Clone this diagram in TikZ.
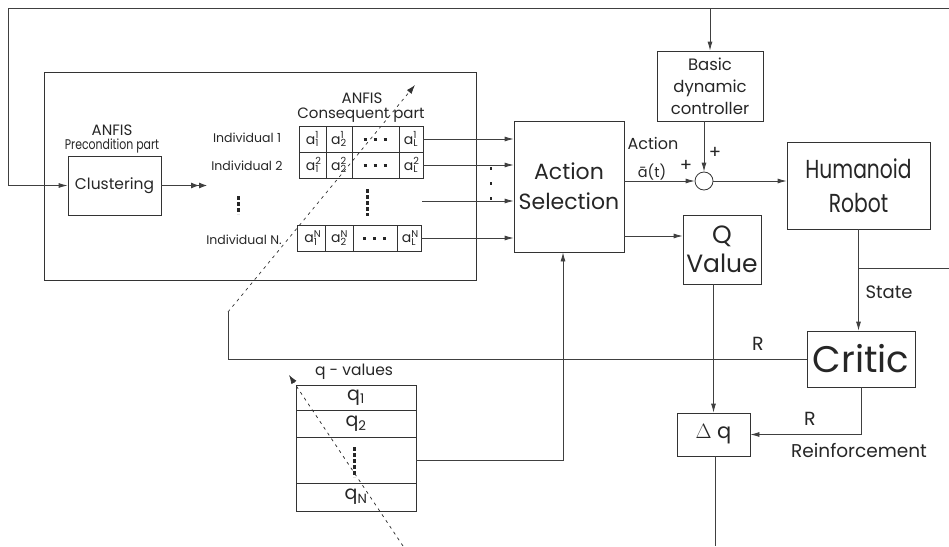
\documentclass[tikz,border=0pt]{standalone}
\usepackage{fontspec}
\setmainfont{Poppins}
\newfontfamily\narrowfont[FakeStretch=0.78]{Poppins}
\usetikzlibrary{arrows.meta}

\newcommand{\ak}[2]{a\rlap{\textsuperscript{#1}}\textsubscript{#2}}
\newcommand{\fs}[2]{\fontsize{#1}{#2}\selectfont}

\tikzset{
  blk/.style={draw=black!80, line width=0.8pt, inner sep=0pt, align=center, text=black!85},
  cell/.style={blk, minimum height=26pt, font=\fs{14}{16}},
  qrow/.style={blk, minimum width=120pt, font=\fs{19}{22}},
  lbl/.style={inner sep=0pt, text=black!85, align=center},
  ln/.style={line width=0.8pt, draw=black!75},
  arr/.style={ln, -{Latex[length=9pt,width=5pt]}},
  dsh/.style={line width=0.7pt, draw=black!80, dash pattern=on 3pt off 4pt,
    -{Latex[length=9pt,width=6pt]}},
  bigdots/.style={line width=3pt, draw=black!85, dash pattern=on 3.5pt off 2.5pt},
}

\begin{document}
\begin{tikzpicture}[x=1pt,y=-1pt]
  \useasboundingbox (0,0) rectangle (949,546);

  % ANFIS block
  \node[blk, minimum width=432pt, minimum height=208pt] (anfis) at (260,176) {};
  \node[blk, minimum width=93pt, minimum height=59pt, font=\fs{15.5}{18}] (clust) at (114.5,185.5) {Clustering};
  \node[lbl, font=\fs{15}{18}] (anfisA) at (112,130) {ANFIS};
  \node[lbl, font=\narrowfont\fs{14}{16}] (precond) at (112,146) {Precondition part};
  \node[lbl, font=\fs{15}{18}] (anfisB) at (362,98) {ANFIS};
  \node[lbl, font=\fs{15}{18}] (conseq) at (361,115) {Consequent part};

  \node[lbl, font=\fs{12.5}{15}] (ind1) at (247,138) {Individual 1};
  \node[lbl, font=\fs{12.5}{15}] (ind2) at (247,166) {Individual 2};
  \node[lbl, font=\fs{12.5}{15}] (indN) at (244,240) {Individual N.};
  \draw[bigdots] (238,196) -- (238,214);

  % consequent parameters of each individual
  \node[cell, minimum width=27pt] (a11) at (312.5,139) {\ak{1}{1}};
  \node[cell, minimum width=26pt] (a12) at (339,139) {\ak{1}{2}};
  \node[cell, minimum width=47pt] (d1) at (375.5,139) {};
  \node[cell, minimum width=24pt] (a1L) at (411,139) {\ak{1}{L}};
  \node[cell, minimum width=27pt] (a21) at (312.5,165) {\ak{2}{1}};
  \node[cell, minimum width=26pt] (a22) at (339,165) {\ak{2}{2}};
  \node[cell, minimum width=47pt] (d2) at (375.5,165) {};
  \node[cell, minimum width=24pt] (a2L) at (411,165) {\ak{2}{L}};
  \node[cell, minimum width=28pt] (aN1) at (311,238) {\ak{N}{1}};
  \node[cell, minimum width=28pt] (aN2) at (339,238) {\ak{N}{2}};
  \node[cell, minimum width=44pt] (dN) at (375,238) {};
  \node[cell, minimum width=24pt] (aNL) at (409,238) {\ak{N}{L}};
  \foreach \c in {d1,d2,dN}
    \draw[line width=3pt, draw=black!85, dash pattern=on 3pt off 7pt] ([xshift=-12pt]\c.center) -- ([xshift=14pt]\c.center);
  \draw[bigdots] (367,189) -- (367,216);
  \coordinate (rowdots) at (422,201);

  % controller side
  \node[blk, minimum width=110pt, minimum height=131pt, font=\fs{22}{30}] (as) at (569,186.5) {Action\\Selection};
  \node[blk, minimum width=106pt, minimum height=70pt, font=\fs{16.5}{22}] (bdc) at (710,86) {Basic\\dynamic\\controller};
  \node[draw=black!80, line width=0.8pt, circle, minimum size=18pt, inner sep=0pt] (sum) at (704,181) {};
  \node[blk, minimum width=143pt, minimum height=87pt, font=\narrowfont\fs{26}{34}] (robot) at (858.5,185.5) {Humanoid\\Robot};
  \node[blk, minimum width=78pt, minimum height=69pt, font=\fs{25}{29}] (qv) at (722,249.5) {Q\\Value};
  \node[blk, minimum width=108pt, minimum height=56pt, font=\fs{37}{40}] (critic) at (861,359) {Critic};
  \node[blk, minimum width=73pt, minimum height=43pt, font=\fs{21}{24}] (dq) at (713.5,434.5) {$\Delta$ q};

  \node[lbl, font=\fs{16}{18}] (act) at (653,143) {Action};
  \node[lbl, font=\fs{14.5}{16}] (abar) at (652,172) {\=a(t)};
  \node[lbl, font=\fs{18}{20}] (plusA) at (686,166) {+};
  \node[lbl, font=\fs{18}{20}] (plusB) at (715,153) {+};
  \node[lbl, font=\fs{18}{20}] (st) at (889,292) {State};
  \node[lbl, font=\fs{19}{21}] (rA) at (758,344) {R};
  \node[lbl, font=\fs{19}{21}] (rB) at (810,419) {R};
  \node[lbl, font=\fs{18.5}{21}] (reinf) at (859,451) {Reinforcement};
  \draw[line width=2.5pt, draw=black!85, dash pattern=on 2.5pt off 12.5pt] (491,167) -- (491,202);

  % q-values table
  \node[lbl, font=\fs{15.5}{18}] (qlab) at (354,372) {q - values};
  \node[qrow, minimum height=25pt] (q1) at (356,397.5) {q\textsubscript{1}};
  \node[qrow, minimum height=27pt] (q2) at (356,423.5) {q\textsubscript{2}};
  \node[qrow, minimum height=46pt] (qd) at (356,460) {};
  \node[qrow, minimum height=28pt] (qN) at (356,497) {q\textsubscript{N}};
  \draw[bigdots] (354,447) -- (354,477);

  % connectors
  \coordinate (topR) at (949,8);
  \coordinate (topL) at (8,8);
  \draw[arr] (topR) -- (topL) |- (clust.west);
  \draw[ln, -{Latex[length=8pt,width=6pt]Latex[length=8pt,width=6pt]}] (clust.east) -- (207,185.5);
  \draw[arr] (a1L.east) -- (a1L.east -| as.west);
  \draw[arr] (a2L.east) -- (a2L.east -| as.west);
  \draw[arr] (rowdots) -- (rowdots -| as.west);
  \draw[arr] (aNL.east) -- (aNL.east -| as.west);
  \draw[arr] (bdc.north |- topR) -- (bdc.north);
  \draw[arr] (bdc.south -| sum.north) -- (sum.north);
  \draw[arr] (as.east |- sum.west) -- (sum.west);
  \draw[arr] (sum.east) -- (sum.east -| robot.west);
  \draw[arr] ([yshift=13.5pt]qv.west -| as.east) -- ([yshift=13.5pt]qv.west);
  \coordinate (stR) at (949,268);
  \draw[ln] (robot.south |- stR) -- (stR);
  \draw[arr] (robot.south) -- (robot.south |- critic.north);
  \draw[arr] (dq.north |- qv.south) -- (dq.north);
  \draw[arr] (critic.south) |- (dq.east);
  \coordinate (dqEnd) at (715,546);
  \draw[ln] (dq.south -| dqEnd) -- (dqEnd);
  \coordinate (rUp) at (228,312);
  \draw[ln] (critic.west) -| (rUp);
  \coordinate (qUp) at (563,459);
  \draw[arr] (qd.east) -| (qUp |- as.south);

  % parameter updates
  \coordinate (updA) at (415,85);
  \coordinate (qLow) at (403,546);
  \coordinate (updB) at (289,375);
  \draw[dsh] (rUp) -- (updA);
  \draw[dsh] (qLow) -- (updB);
\end{tikzpicture}
\end{document}
